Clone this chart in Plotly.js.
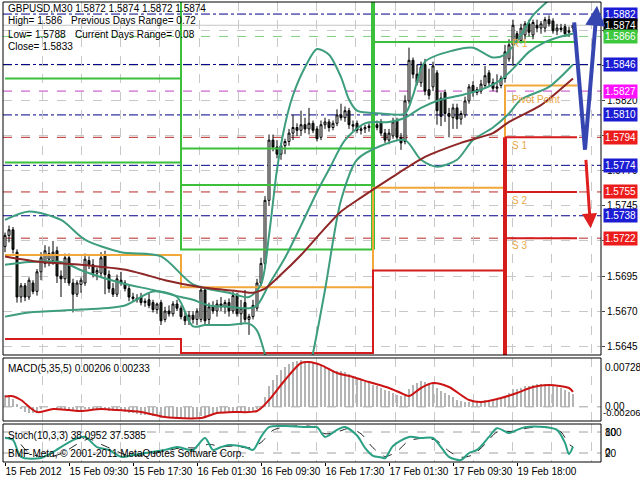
<!DOCTYPE html>
<html><head><meta charset="utf-8">
<script src="https://cdn.plot.ly/plotly-3.0.1.min.js"></script>
<style>html,body{margin:0;padding:0;background:#fff}#chart{width:640px;height:480px}</style>
</head><body><div id="chart"></div>
<script>
// ---------- DATA ----------
const open = [1.5716,1.5724,1.5728,1.5712,1.5680,1.5688,1.5680,1.5690,1.5684,1.5698,
1.5704,1.5707,1.5706,1.5713,1.5695,1.5693,1.5708,1.5690,1.5682,1.5689,
1.5690,1.5706,1.5703,1.5697,1.5697,1.5710,1.5696,1.5686,1.5682,1.5692,
1.5690,1.5686,1.5680,1.5679,1.5680,1.5676,1.5678,1.5676,1.5671,1.5676,
1.5664,1.5670,1.5668,1.5675,1.5672,1.5666,1.5663,1.5667,1.5664,1.5664,
1.5685,1.5664,1.5673,1.5670,1.5675,1.5673,1.5676,1.5670,1.5681,1.5668,
1.5676,1.5664,1.5666,1.5672,1.5690,1.5704,1.5749,1.5792,1.5787,1.5782,
1.5788,1.5791,1.5797,1.5801,1.5799,1.5803,1.5800,1.5804,1.5800,1.5794,
1.5803,1.5805,1.5801,1.5804,1.5810,1.5808,1.5813,1.5803,1.5804,1.5799,
1.5800,1.5801,1.5800,1.5803,1.5805,1.5797,1.5792,1.5795,1.5806,1.5794,
1.5791,1.5820,1.5849,1.5839,1.5833,1.5846,1.5828,1.5830,1.5840,1.5822,
1.5826,1.5811,1.5808,1.5815,1.5807,1.5810,1.5820,1.5831,1.5826,1.5827,
1.5831,1.5840,1.5833,1.5829,1.5831,1.5836,1.5850,1.5860,1.5868,1.5863,
1.5867,1.5875,1.5867,1.5874,1.5872,1.5872,1.5878,1.5877,1.5870,1.5872,
1.5873,1.5869,1.5872];
const high = [1.5726,1.5731,1.5730,1.5714,1.5690,1.5690,1.5694,1.5692,1.5700,1.5712,
1.5717,1.5716,1.5720,1.5716,1.5699,1.5711,1.5711,1.5693,1.5692,1.5694,
1.5711,1.5709,1.5707,1.5701,1.5712,1.5713,1.5699,1.5690,1.5696,1.5698,
1.5692,1.5688,1.5683,1.5682,1.5683,1.5679,1.5683,1.5678,1.5676,1.5678,
1.5673,1.5674,1.5677,1.5678,1.5674,1.5670,1.5670,1.5670,1.5672,1.5688,
1.5687,1.5676,1.5677,1.5678,1.5680,1.5678,1.5679,1.5684,1.5683,1.5678,
1.5685,1.5668,1.5678,1.5693,1.5708,1.5752,1.5796,1.5796,1.5792,1.5790,
1.5793,1.5800,1.5810,1.5804,1.5813,1.5808,1.5815,1.5806,1.5802,1.5806,
1.5808,1.5807,1.5806,1.5814,1.5818,1.5816,1.5815,1.5806,1.5806,1.5802,
1.5803,1.5804,1.5805,1.5806,1.5807,1.5800,1.5800,1.5808,1.5808,1.5797,
1.5824,1.5858,1.5851,1.5846,1.5848,1.5850,1.5843,1.5848,1.5842,1.5826,
1.5828,1.5815,1.5818,1.5818,1.5813,1.5823,1.5832,1.5834,1.5830,1.5835,
1.5845,1.5842,1.5836,1.5839,1.5838,1.5860,1.5864,1.5878,1.5870,1.5875,
1.5877,1.5878,1.5878,1.5878,1.5877,1.5880,1.5881,1.5879,1.5875,1.5875,
1.5875,1.5873,1.5874];
const low = [1.5712,1.5719,1.5711,1.5676,1.5676,1.5677,1.5678,1.5682,1.5681,1.5692,
1.5701,1.5702,1.5703,1.5690,1.5680,1.5690,1.5688,1.5669,1.5680,1.5683,
1.5688,1.5700,1.5694,1.5692,1.5694,1.5682,1.5683,1.5680,1.5680,1.5688,
1.5684,1.5677,1.5677,1.5676,1.5674,1.5673,1.5672,1.5669,1.5668,1.5660,
1.5662,1.5666,1.5666,1.5670,1.5664,1.5660,1.5660,1.5661,1.5660,1.5662,
1.5660,1.5660,1.5668,1.5666,1.5670,1.5668,1.5666,1.5668,1.5666,1.5660,
1.5662,1.5653,1.5664,1.5670,1.5688,1.5700,1.5745,1.5784,1.5779,1.5778,
1.5782,1.5788,1.5792,1.5795,1.5795,1.5797,1.5796,1.5797,1.5791,1.5792,
1.5800,1.5798,1.5799,1.5802,1.5806,1.5805,1.5800,1.5798,1.5797,1.5796,
1.5797,1.5798,1.5798,1.5799,1.5795,1.5790,1.5789,1.5793,1.5792,1.5785,
1.5789,1.5818,1.5836,1.5831,1.5830,1.5824,1.5821,1.5827,1.5803,1.5802,
1.5805,1.5794,1.5800,1.5800,1.5803,1.5808,1.5818,1.5823,1.5824,1.5825,
1.5829,1.5830,1.5827,1.5826,1.5829,1.5833,1.5848,1.5845,1.5861,1.5861,
1.5864,1.5866,1.5864,1.5869,1.5868,1.5869,1.5873,1.5868,1.5867,1.5869,
1.5866,1.5866,1.5869];
const close = [1.5724,1.5728,1.5714,1.5680,1.5688,1.5680,1.5692,1.5684,1.5698,1.5708,
1.5713,1.5711,1.5712,1.5695,1.5693,1.5708,1.5690,1.5682,1.5690,1.5692,
1.5707,1.5703,1.5697,1.5699,1.5708,1.5696,1.5686,1.5682,1.5693,1.5690,
1.5686,1.5680,1.5679,1.5678,1.5676,1.5677,1.5674,1.5671,1.5675,1.5663,
1.5670,1.5668,1.5675,1.5672,1.5666,1.5663,1.5667,1.5664,1.5670,1.5685,
1.5663,1.5673,1.5670,1.5675,1.5673,1.5676,1.5670,1.5681,1.5668,1.5672,
1.5664,1.5666,1.5674,1.5690,1.5704,1.5749,1.5792,1.5787,1.5782,1.5788,
1.5791,1.5797,1.5801,1.5799,1.5803,1.5800,1.5804,1.5799,1.5793,1.5803,
1.5805,1.5801,1.5804,1.5810,1.5808,1.5813,1.5803,1.5802,1.5799,1.5800,
1.5801,1.5802,1.5803,1.5801,1.5797,1.5792,1.5797,1.5805,1.5794,1.5790,
1.5820,1.5849,1.5839,1.5833,1.5844,1.5827,1.5824,1.5845,1.5813,1.5809,
1.5811,1.5809,1.5815,1.5807,1.5811,1.5820,1.5830,1.5826,1.5828,1.5832,
1.5838,1.5833,1.5829,1.5830,1.5836,1.5855,1.5860,1.5874,1.5863,1.5872,
1.5875,1.5869,1.5876,1.5872,1.5875,1.5878,1.5875,1.5870,1.5872,1.5871,
1.5868,1.5870,1.5874];

// Bollinger bands and moving average (bar index, price)
const upperIdx = [0,6,14,20,29,39,47,56,61,64,66,68,70,72,75,78,81,84,86,88,94,100,102,105,112,117,122,125,129,132,136,142];
const upperVal = [1.5735,1.5741,1.5735,1.5721,1.5712,1.5709,1.5689,1.5683,1.5680,1.5689,1.5724,1.5771,1.5803,1.5824,1.5844,1.5857,1.5853,1.5837,1.5821,1.5813,1.5811,1.5811,1.5824,1.5848,1.5856,1.5858,1.5851,1.5853,1.5867,1.5881,1.5892,1.5906];
const middleIdx = [0,6,14,20,29,37,44,47,51,56,61,63,66,70,74,78,81,85,90,96,100,104,109,114,119,124,128,131,135,139,142];
const middleVal = [1.5703,1.5705,1.5705,1.5698,1.5690,1.5685,1.5680,1.5678,1.5674,1.5673,1.5672,1.5674,1.5689,1.5708,1.5731,1.5755,1.5771,1.5792,1.5804,1.5805,1.5808,1.5815,1.5821,1.5824,1.5828,1.5835,1.5846,1.5855,1.5862,1.5866,1.5868];
const lowerIdx = [0,6,19,30,37,43,47,50,56,61,63,65,67,75,77,80,84,88,94,100,104,108,113,117,122,126,129,136,142];
const lowerVal = [1.5666,1.5669,1.5671,1.5674,1.5684,1.5680,1.5659,1.5660,1.5660,1.5661,1.5656,1.5639,1.5617,1.5617,1.5640,1.5685,1.5749,1.5778,1.5788,1.5792,1.5778,1.5773,1.5778,1.5792,1.5801,1.5811,1.5821,1.5830,1.5846];
const maIdx = [0,9,19,31,40,49,59,62,65,69,74,79,84,89,97,105,114,122,126,134,142];
const maVal = [1.5709,1.5705,1.5703,1.5699,1.5692,1.5687,1.5684,1.5683,1.5686,1.5696,1.5710,1.5726,1.5741,1.5751,1.5766,1.5780,1.5790,1.5797,1.5805,1.5817,1.5836];

// Daily level step lines
const greenLineX = [0,44,null,0,44,null,44,92,null,44,92,null,92,143];
const greenLineY = [1.5836,1.5836,null,1.5776,1.5776,null,1.5786,1.5786,null,1.5760,1.5760,null,1.5862,1.5862];
const greenBoxX = [44,44,92];
const greenBoxY = [1.5900,1.5714,1.5714];
const greenBarX = [92,92];
const greenBarY = [1.5714,1.5900];
const orangeX = [0,44,44,92,92,125,125,143];
const orangeY = [1.5710,1.5710,1.5687,1.5687,1.5758,1.5758,1.5831,1.5831];
const redStepX = [0,44,44,92,92,125];
const redStepY = [1.5650,1.5650,1.5640,1.5640,1.5699,1.5699];
const redPivotX = [125,125];
const redPivotY = [1.5794,1.5630];
const supportLevels = [1.5794,1.5755,1.5722];
const supportFrom = 125, supportTo = 143;

// Horizontal price levels
const levelBlue = [1.5882,1.5846,1.5810,1.5774,1.5738];
const levelRed = [1.5794,1.5755,1.5722];
const levelMagenta = [1.5827];
const levelGreen = [1.5866];
const bidPrice = 1.5874;

// Projection arrows
const blueArrowX = [142.3,145.0,148.0];
const blueArrowY = [1.5876,1.5785,1.5888];
const redArrowX = [145.2,146.4];
const redArrowY = [1.5779,1.5729];

// MACD
const macdMain = [0.0019,0.0018,0.0012,0.0004,-0.0003,-0.0008,-0.0010,-0.0009,-0.0006,-0.0003,
-0.0001,0.0000,-0.0001,-0.0003,-0.0005,-0.0004,-0.0005,-0.0007,-0.0008,-0.0007,
-0.0004,-0.0004,-0.0005,-0.0005,-0.0003,-0.0004,-0.0006,-0.0007,-0.0006,-0.0007,
-0.0008,-0.0009,-0.0010,-0.0011,-0.0012,-0.0012,-0.0013,-0.0014,-0.0015,-0.0017,
-0.0017,-0.0018,-0.0017,-0.0017,-0.0018,-0.0018,-0.0018,-0.0017,-0.0016,-0.0014,
-0.0014,-0.0012,-0.0011,-0.0010,-0.0009,-0.0009,-0.0008,-0.0008,-0.0009,-0.0008,
-0.0009,-0.0010,-0.0008,-0.0004,0.0002,0.0016,0.0032,0.0042,0.0050,0.0057,
0.0062,0.0066,0.0070,0.0072,0.0073,0.0072,0.0071,0.0069,0.0066,0.0064,
0.0061,0.0059,0.0057,0.0056,0.0055,0.0054,0.0051,0.0048,0.0045,0.0042,
0.0039,0.0037,0.0034,0.0032,0.0029,0.0026,0.0024,0.0022,0.0019,0.0017,
0.0019,0.0028,0.0034,0.0037,0.0040,0.0039,0.0036,0.0036,0.0030,0.0025,
0.0022,0.0018,0.0015,0.0011,0.0009,0.0008,0.0008,0.0008,0.0008,0.0009,
0.0011,0.0011,0.0011,0.0012,0.0013,0.0017,0.0021,0.0027,0.0028,0.0030,
0.0032,0.0033,0.0034,0.0035,0.0035,0.0036,0.0035,0.0033,0.0031,0.0029,
0.0026,0.0023,0.00206];
const macdSigIdx = [0,2,4,8,12,16,19,24,28,34,40,49,53,57,63,66,70,74,76,79,83,87,91,96,99,101,104,107,111,116,119,124,128,132,136,141,142];
const macdSigVal = [0.00160,0.00165,0.00106,-0.00081,-0.00034,-0.00050,-0.00065,-0.00034,-0.00050,-0.00081,-0.00159,-0.00174,-0.00097,-0.00081,-0.00065,0.00106,0.00417,0.00682,0.00697,0.00650,0.00526,0.00464,0.00386,0.00293,0.00215,0.00168,0.00293,0.00370,0.00308,0.00106,0.00075,0.00137,0.00215,0.00308,0.00339,0.00293,0.00233];

// Stochastic
const stochIdx = [0,2,4,9,12,17,20,23,26,29,32,35,40,43,47,50,52,54,56,60,62,64,66,70,76,78,80,83,85,88,90,92,94,95,97,101,104,107,109,111,114,116,118,121,123,126,128,130,135,138,140,141,142];
const stochMain = [63,57,9,6,23,57,66,37,29,9,14,20,29,37,29,63,29,37,43,37,29,66,94,97,94,94,66,86,94,70,35,12,8,5,40,66,63,63,37,9,0,20,29,66,91,77,86,94,94,86,49,17,38.0952];
const stochSigIdx = [0,3,6,10,14,18,21,24,27,31,35,40,44,48,51,54,57,61,64,67,71,77,80,83,86,89,92,95,98,101,105,108,111,114,117,120,123,127,131,136,139,141,142];
const stochSig = [65,55,20,8,18,45,60,45,30,12,15,25,35,35,45,38,40,35,50,85,96,95,75,80,90,75,35,10,25,55,62,55,25,8,15,45,80,82,92,93,80,45,37.5385];

// Axis tick labels
const dateTickIdx = [0,16,32,48,64,80,96,112,128];
const dateTickText = ["15 Feb 2012","15 Feb 09:30","15 Feb 17:30","16 Feb 01:30","16 Feb 09:30","16 Feb 17:30","17 Feb 01:30","17 Feb 09:30","19 Feb 18:00"];
const priceTicks = [1.5645,1.5670,1.5695,1.5720,1.5745,1.5770,1.5795,1.5820,1.5845,1.5870];
const priceTickText = ["1.5645","1.5670","1.5695","","1.5745","1.5770","","1.5820","",""]; // the rest sit under the coloured level labels

// Info texts
const infoLine1 = "GBPUSD,M30 1.5872 1.5874 1.5872 1.5874";
const infoHigh = "High= 1.586", infoPrevRange = "Previous Days Range= 0.72";
const infoLow = "Low= 1.5788", infoCurRange = "Current Days Range= 0.08";
const infoClose = "Close= 1.5833";
const macdTitle = "MACD(5,35,5) 0.00206 0.00233";
const macdScale = [0.00728, 0, -0.00206];
const macdScaleText = ["0.00728","0.00","-0.00206"];
const stochTitle = "Stoch(10,3,3) 38.0952 37.5385";
const stochLevels = [20, 80];
const stochScale = [100, 80, 20, 0];
const copyright = "BMF-Meta, © 2001-2011 MetaQuotes Software Corp.";
const pivotNames = ["R 1","Pivot Point","S 1","S 2","S 3"];
const pivotNamePrice = [1.5861,1.5821,1.5788,1.5749,1.5717];

// ---------- BUILD ----------
const barIdx = close.map((_, i) => i);
const FONT = "Liberation Sans, Arial, sans-serif";
const teal = "#3d9d7e";
const traces = [];

function line(x, y, color, width, extra) {
  return Object.assign({type:'scatter', mode:'lines', x, y, xaxis:'x', yaxis:'y',
    line:{color, width}, hoverinfo:'skip', showlegend:false}, extra || {});
}
traces.push(line(greenLineX, greenLineY, '#3cc03c', 2));
traces.push(line(greenBoxX, greenBoxY, '#3cc03c', 2));
traces.push(line(greenBarX, greenBarY, '#3cc03c', 4));
traces.push(line(orangeX, orangeY, '#f2a838', 2));
traces.push(line(redStepX, redStepY, '#d41c1c', 2));
traces.push(line(redPivotX, redPivotY, '#d41c1c', 4));
supportLevels.forEach(v => traces.push(line([supportFrom, supportTo], [v, v], '#d41c1c', 2)));
const spl = {shape:'spline', smoothing:0.8};
traces.push(line(upperIdx, upperVal, teal, 2, {line:Object.assign({color:teal,width:2}, spl)}));
traces.push(line(middleIdx, middleVal, teal, 2, {line:Object.assign({color:teal,width:2}, spl)}));
traces.push(line(lowerIdx, lowerVal, teal, 2, {line:Object.assign({color:teal,width:2}, spl)}));
traces.push(line(maIdx, maVal, '#8e2626', 2, {line:{color:'#8e2626',width:2,shape:'spline',smoothing:0.6}}));

traces.push({type:'candlestick', x: barIdx, open, high, low, close, xaxis:'x', yaxis:'y',
  increasing:{line:{color:'#000', width:1}, fillcolor:'#ffffff'},
  decreasing:{line:{color:'#000', width:1}, fillcolor:'#1e2a1e'},
  whiskerwidth:0, hoverinfo:'skip', showlegend:false});

traces.push(line(blueArrowX.slice(0,2), blueArrowY.slice(0,2), '#3646b0', 4));

// MACD
traces.push({type:'bar', x: barIdx, y: macdMain, xaxis:'x', yaxis:'y2', width:0.5,
  marker:{color:'#b4b4b4', line:{width:0}}, hoverinfo:'skip', showlegend:false});
traces.push({type:'scatter', mode:'lines', x: macdSigIdx, y: macdSigVal, xaxis:'x', yaxis:'y2',
  line:{color:'#cc1414', width:2, shape:'spline', smoothing:0.8}, hoverinfo:'skip', showlegend:false});

// Stoch
traces.push({type:'scatter', mode:'lines', x: stochSigIdx, y: stochSig, xaxis:'x', yaxis:'y3',
  line:{color:'#222', width:1, dash:'dash', shape:'spline', smoothing:0.8}, hoverinfo:'skip', showlegend:false});
traces.push({type:'scatter', mode:'lines', x: stochIdx, y: stochMain, xaxis:'x', yaxis:'y3',
  line:{color:'#2aa084', width:2, shape:'spline', smoothing:0.8}, hoverinfo:'skip', showlegend:false});

const shapes = [];
const hline = (v, color, dash, width, yref) => shapes.push({type:'line', xref:'paper', x0:0, x1:1,
  yref: yref || 'y', y0:v, y1:v, line:{color, width: width || 1, dash}, layer:'below'});
hline(bidPrice, '#c4c4c4', 'solid');
levelGreen.forEach(v => hline(v, '#7fcf7f', 'dash'));
levelBlue.forEach(v => hline(v, '#000088', 'dashdot'));
levelRed.forEach(v => hline(v, '#b82828', 'dash'));
levelMagenta.forEach(v => hline(v, '#c040c0', 'dash'));
hline(0, '#a0a0a0', 'dash', 1, 'y2');
stochLevels.forEach(v => hline(v, '#a0a0a0', 'dash', 1, 'y3'));
['y','y2','y3'].forEach(r => shapes.push({type:'rect', xref:'paper', x0:0, x1:1,
  yref: r + ' domain', y0:0, y1:1, line:{color:'#000', width:1}, layer:'above'}));

const annotations = [];
const txt = (text, xpx, ypx, extra) => annotations.push(Object.assign({text, xref:'paper', yref:'paper',
  x: (xpx - 3) / 598, y: (462 - ypx) / 460, xanchor:'left', yanchor:'middle', showarrow:false,
  font:{family:FONT, size:10, color:'#000'}}, extra || {}));
txt(infoLine1, 6, 8);
txt(infoHigh, 6, 21); txt(infoPrevRange, 69, 21);
txt(infoLow, 6, 34); txt(infoCurRange, 73, 34);
txt(infoClose, 6, 47);
txt(macdTitle, 6, 368);
txt(stochTitle, 6, 435);
txt(copyright, 6, 453);

pivotNames.forEach((n, k) => annotations.push({text:n, x:126.3, y:pivotNamePrice[k], xref:'x', yref:'y',
  xanchor:'left', yanchor:'middle', showarrow:false, font:{family:FONT, size:10, color:'#e8a848'}}));

const priceLabel = (v, bg) => annotations.push({text: v.toFixed(4), xref:'paper', x:1, xshift:2, yref:'y', y:v,
  xanchor:'left', yanchor:'middle', showarrow:false, bgcolor:bg, borderpad:1,
  font:{family:FONT, size:10, color:'#fff'}});
levelBlue.forEach(v => priceLabel(v, '#1c1cd4'));
priceLabel(bidPrice, '#000000');
levelGreen.forEach(v => priceLabel(v, '#3ec83e'));
levelMagenta.forEach(v => priceLabel(v, '#ff10ff'));
levelRed.forEach(v => priceLabel(v, '#ec1c1c'));

macdScale.forEach((v, k) => annotations.push({text: macdScaleText[k], xref:'paper', x:1, xshift: k === 2 ? 0 : 2, yref:'y2', y:v,
  xanchor:'left', yanchor: k === 0 ? 'top' : (k === 2 ? 'bottom' : 'middle'), showarrow:false,
  font:{family:FONT, size: k === 2 ? 9.5 : 10, color:'#000'}}));
stochScale.forEach((v, k) => annotations.push({text: String(v), xref:'paper', x:1, xshift:2, yref:'y3', y:v,
  xanchor:'left', yanchor: v === 100 ? 'top' : (v === 0 ? 'bottom' : 'middle'), showarrow:false,
  font:{family:FONT, size:10, color:'#000'}}));

// arrow heads
annotations.push({x: blueArrowX[2], y: blueArrowY[2], ax: blueArrowX[1], ay: blueArrowY[1],
  xref:'x', yref:'y', axref:'x', ayref:'y', showarrow:true, arrowhead:2, arrowsize:1, arrowwidth:4, arrowcolor:'#3646b0', text:''});
annotations.push({x: redArrowX[1], y: redArrowY[1], ax: redArrowX[0], ay: redArrowY[0],
  xref:'x', yref:'y', axref:'x', ayref:'y', showarrow:true, arrowhead:2, arrowsize:1, arrowwidth:3, arrowcolor:'#e02020', text:''});

const layout = {
  width:640, height:480, margin:{l:3, r:39, t:2, b:18},
  paper_bgcolor:'#fff', plot_bgcolor:'#fff', showlegend:false, hovermode:false,
  font:{family:FONT, size:10, color:'#000'},
  bargap:0,
  xaxis:{type:'linear', range:[-0.5,149], anchor:'y3', showgrid:false, zeroline:false, showline:false,
    tickvals:dateTickIdx, ticktext:dateTickText, ticks:'outside', ticklen:3, tickcolor:'#000',
    tickangle:0, ticklabelposition:'outside right', tickfont:{family:FONT, size:10},
    rangeslider:{visible:false},
    minor:{tick0:-0.5, dtick:9.8, showgrid:true, gridcolor:'#c8c8c8', griddash:'dash', gridwidth:1, ticks:''}},
  yaxis:{domain:[0.2326,1], range:[1.56386,1.58906], side:'right', anchor:'x',
    tickvals:priceTicks, ticktext:priceTickText, ticks:'outside', ticklen:3,
    showgrid:true, gridcolor:'#c8c8c8', griddash:'dash', zeroline:false, showline:false,
    tickfont:{family:FONT, size:10}},
  yaxis2:{domain:[0.0891,0.2261], range:[-0.00221,0.0076], anchor:'x', showticklabels:false,
    showgrid:false, zeroline:false, ticks:''},
  yaxis3:{domain:[0,0.0826], range:[-5.7,102.9], anchor:'x', showticklabels:false,
    showgrid:false, zeroline:false, ticks:''},
  shapes, annotations
};
Plotly.newPlot('chart', traces, layout, {staticPlot:true, displayModeBar:false});
</script></body></html>
